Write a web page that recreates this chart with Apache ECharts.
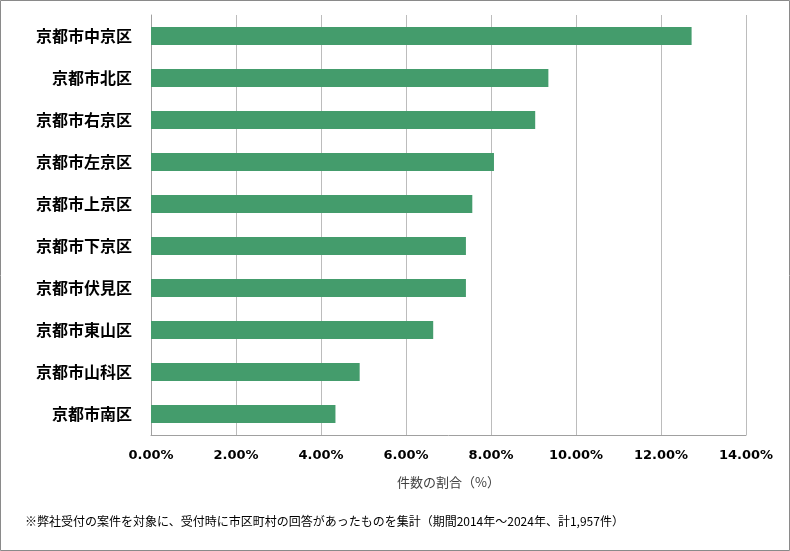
<!DOCTYPE html>
<html><head><meta charset="utf-8">
<script src="https://cdn.jsdelivr.net/npm/echarts@6/dist/echarts.min.js"></script>
<style>html,body{margin:0;padding:0;background:#fff}#c{width:790px;height:551px}</style>
</head><body><div id="c"></div>
<script>
const categories = ['京都市中京区','京都市北区','京都市右京区','京都市左京区','京都市上京区','京都市下京区','京都市伏見区','京都市東山区','京都市山科区','京都市南区'];
const shares = [12.72, 9.35, 9.04, 8.07, 7.56, 7.41, 7.41, 6.64, 4.91, 4.34];
const xTicks = {min: 0, max: 14, interval: 2};
const axisTitle = '件数の割合（%）';
const footnote = '※弊社受付の案件を対象に、受付時に市区町村の回答があったものを集計（期間2014年～2024年、計1,957件）';

const chart = echarts.init(document.getElementById('c'), null, {renderer: 'canvas'});
chart.setOption({
  animation: false,
  backgroundColor: '#fff',
  grid: {left: 151, right: 44, top: 15, bottom: 116},
  xAxis: {
    type: 'value', min: xTicks.min, max: xTicks.max, interval: xTicks.interval,
    axisLine: {show: true, lineStyle: {color: '#a0a0a0', width: 1}},
    axisTick: {show: false},
    splitLine: {show: true, lineStyle: {color: '#bcbcbc', width: 1}},
    axisLabel: {formatter: v => v.toFixed(2) + '%', fontFamily: 'DejaVu Sans', fontWeight: 'bold', fontSize: 13, color: '#000', margin: 14},
    name: axisTitle, nameLocation: 'middle', nameGap: 41,
    nameTextStyle: {fontFamily: 'Noto Sans CJK JP', fontSize: 13, color: '#404040'}
  },
  yAxis: {
    type: 'category', data: categories, inverse: true,
    axisLine: {show: true, lineStyle: {color: '#a0a0a0', width: 1}},
    axisTick: {show: false},
    axisLabel: {fontFamily: 'Noto Sans CJK JP', fontWeight: 'bold', fontSize: 16, color: '#000', margin: 19}
  },
  series: [{
    type: 'bar', data: shares, barWidth: 18,
    itemStyle: {color: '#449c6c'}
  }],
  graphic: [
    {type: 'rect', shape: {x: 0.5, y: 0.5, width: 789, height: 550}, style: {fill: 'none', stroke: '#8a8a8a', lineWidth: 1}, silent: true},
    {type: 'text', left: 25, top: 515, style: {text: footnote, fontFamily: 'Noto Sans CJK JP', fontSize: 12, fill: '#000'}}
  ]
});
</script></body></html>
